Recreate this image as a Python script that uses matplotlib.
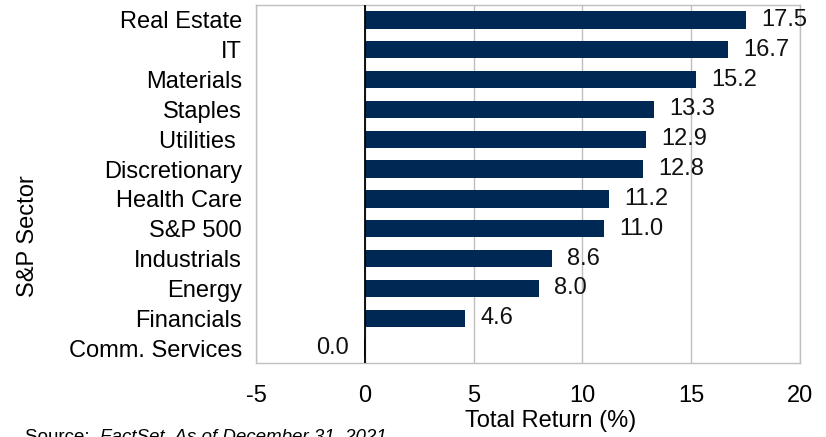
import matplotlib
matplotlib.use("Agg")
import matplotlib.pyplot as plt

sectors = ["Real Estate", "IT", "Materials", "Staples", "Utilities ", "Discretionary",
           "Health Care", "S&P 500", "Industrials", "Energy", "Financials", "Comm. Services"]
values = [17.5, 16.7, 15.2, 13.3, 12.9, 12.8, 11.2, 11.0, 8.6, 8.0, 4.6, -0.04]
labels = ["17.5", "16.7", "15.2", "13.3", "12.9", "12.8", "11.2", "11.0", "8.6", "8.0", "4.6", "0.0"]
xticks = [-5, 0, 5, 10, 15, 20]

plt.rcParams['font.family'] = ['Liberation Sans', 'DejaVu Sans']
FS = 17
W, H = 826, 437
fig = plt.figure(figsize=(W/100, H/100), dpi=100)
ax = fig.add_axes([256/W, 1-363/H, (800-256)/W, (363-5)/H])

navy = "#002855"
ypos = list(range(len(sectors)))[::-1]
ax.barh(ypos, values, height=0.58, color=navy, zorder=3)
for y, v, lab in zip(ypos, values, labels):
    if v >= 0:
        ax.annotate(lab, (v, y), xytext=(11, 0), textcoords="offset points",
                    ha="left", va="center", fontsize=FS, color="#111111")
    else:
        ax.annotate(lab, (v, y), xytext=(-11, 0), textcoords="offset points",
                    ha="right", va="center", fontsize=FS, color="#111111")

ax.set_xlim(-5, 20)
ax.set_ylim(-0.5, len(sectors) - 0.5)
ax.set_xticks(xticks)
ax.set_xticklabels([str(t) for t in xticks], fontsize=FS)
ax.set_yticks(ypos)
ax.set_yticklabels(sectors, fontsize=FS)
ax.tick_params(length=0)
ax.tick_params(axis='x', pad=16)
ax.tick_params(axis='y', pad=10)
ax.grid(axis='x', color="#bfbfbf", linewidth=1, zorder=0)
ax.axvline(0, color="black", linewidth=1.3, zorder=4)
for s in ax.spines.values():
    s.set_color("#bfbfbf")
    s.set_linewidth(1)

fig.text(465/W, 1-421/H, "Total Return (%)", ha="left", va="center", fontsize=FS)
fig.text(28/W, 1-236/H, "S&P Sector", ha="center", va="center", rotation=90, fontsize=FS)
fig.text(25/W, 1-437/H, "Source: ", ha="left", va="center", fontsize=13.5)
fig.text(100/W, 1-437/H, "FactSet. As of December 31, 2021", ha="left", va="center",
         fontsize=13.5, style="italic")

fig.savefig("out.png", dpi=100)
